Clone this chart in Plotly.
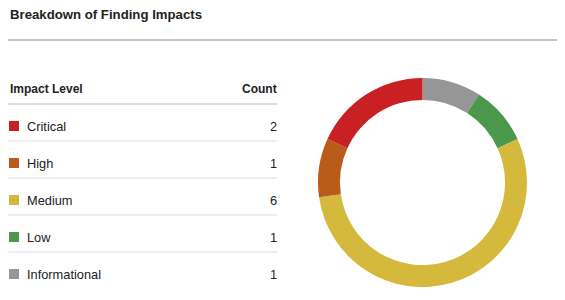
import plotly.graph_objects as go

title = "Breakdown of Finding Impacts"
header_label = "Impact Level"
header_count = "Count"
levels = ["Critical", "High", "Medium", "Low", "Informational"]
counts = [2, 1, 6, 1, 1]
colors = ["#c92024", "#b95b1a", "#d4b93c", "#4b984c", "#969696"]

FONT = "Liberation Sans, Arial, sans-serif"
TEXT = "#222222"
W, H = 565, 300

fig = go.Figure()

# table squares (pixel-like axis)
row_y = [126 + 37 * i for i in range(len(levels))]
fig.add_trace(go.Scatter(
    x=[14] * len(levels), y=row_y, mode="markers",
    marker=dict(symbol="square", size=10, color=colors, line=dict(width=0)),
    hoverinfo="skip", showlegend=False, xaxis="x", yaxis="y"))

# donut: clockwise from 12 o'clock with reversed order == counterclockwise in list order
fig.add_trace(go.Pie(
    labels=levels[::-1], values=counts[::-1], hole=0.79, sort=False,
    direction="clockwise", rotation=0,
    marker=dict(colors=colors[::-1], line=dict(width=0)),
    textinfo="none", hoverinfo="label+value", showlegend=False,
    domain=dict(x=[318 / W, 527 / W], y=[1 - 287 / H, 1 - 78 / H])))

ann = []
ann.append(dict(x=7.5, y=14, text="<b>" + title + "</b>", xanchor="left", yanchor="middle",
                font=dict(size=13.2, color=TEXT, family=FONT)))
ann.append(dict(x=7.5, y=89, text="<b>" + header_label + "</b>", xanchor="left", yanchor="middle",
                font=dict(size=12, color=TEXT, family=FONT)))
ann.append(dict(x=278.5, y=89, text="<b>" + header_count + "</b>", xanchor="right", yanchor="middle",
                font=dict(size=12, color=TEXT, family=FONT)))
for lv, c, y in zip(levels, counts, row_y):
    ann.append(dict(x=24.5, y=y, text=lv, xanchor="left", yanchor="middle",
                    font=dict(size=12.8, color=TEXT, family=FONT)))
    ann.append(dict(x=278.5, y=y, text=str(c), xanchor="right", yanchor="middle",
                    font=dict(size=12.8, color=TEXT, family=FONT)))
for a in ann:
    a.update(xref="x", yref="y", showarrow=False)

shapes = [
    dict(type="line", x0=8, x1=557, y0=40, y1=40, line=dict(color="#8a8a8a", width=1.2)),
    dict(type="line", x0=8, x1=277, y0=104, y1=104, line=dict(color="#b8b8b8", width=1)),
]
for i in range(len(levels) - 1):
    y = (row_y[i] + row_y[i + 1]) / 2 - 3.5
    shapes.append(dict(type="line", x0=8, x1=277, y0=y, y1=y, line=dict(color="#dddddd", width=1)))
for s in shapes:
    s.update(xref="x", yref="y", layer="below")

fig.update_layout(
    width=W, height=H, margin=dict(l=0, r=0, t=0, b=0),
    paper_bgcolor="white", plot_bgcolor="rgba(0,0,0,0)",
    xaxis=dict(range=[0, W], domain=[0, 1], visible=False, fixedrange=True),
    yaxis=dict(range=[H, 0], domain=[0, 1], visible=False, fixedrange=True),
    annotations=ann, shapes=shapes, showlegend=False,
)

fig.write_html("out.html")
